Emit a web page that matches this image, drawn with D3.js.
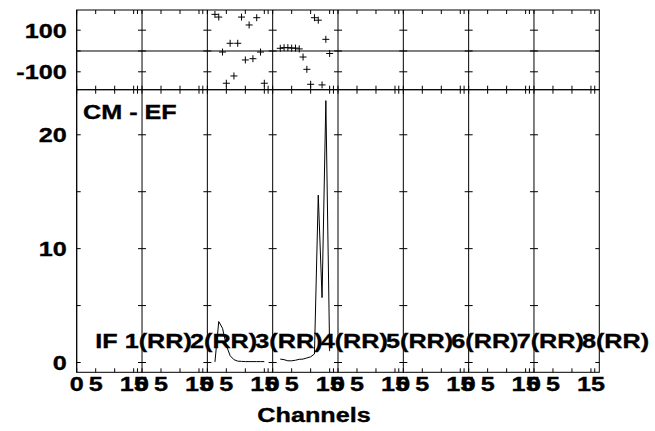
<!DOCTYPE html>
<html><head><meta charset="utf-8">
<script src="https://cdn.jsdelivr.net/npm/d3@7"></script>
<style>html,body{margin:0;padding:0;background:#fff;}svg{display:block;}</style>
</head><body>
<svg id="c" width="655" height="431"></svg>
<script>
// ---- data ----
const ifLabels = ["1(RR)","2(RR)","3(RR)","4(RR)","5(RR)","6(RR)","7(RR)","8(RR)"];
const ifPrefix = "IF ";
const channels = [2,3,4,5,6,7,8,9,10,11,12,13,14,15];
const ampIF3 = [0.05,3.6,3.0,1.5,0.6,0.25,0.12,0.1,0.08,0.08,0.08,0.08,0.08,0.08];
const ampIF4 = [0.3,0.25,0.15,0.15,0.2,0.28,0.3,0.4,0.5,0.75,14.7,5.7,23.0,1.0];
const phaseIF3 = [176,163,-5,-155,37,-120,37,163,-43,125,-37,160,-5,-155];
const phaseIF4 = [13,16,16,14,14,10,-29,-88,-160,160,148,-163,56,-12];
const ampSeries = [{ifIndex:2, values:ampIF3},{ifIndex:3, values:ampIF4}];
const phaseSeries = [{ifIndex:2, values:phaseIF3},{ifIndex:3, values:phaseIF4}];
const xTickVals = [0,5,10,15,16];
const xTickLabels = [0,5,15];
const phaseTicks = [100,-100];
const ampTicks = [0,5,10,15,20];
const ampTickLabels = [0,10,20];
const title = "CM - EF";
const xTitle = "Channels";

// ---- layout ----
const L = 76.7, R = 599.3, T = 10, M = 89.7, B = 372.3;
const svg = d3.select("#c");
const FONT = "'Liberation Sans', Arial, Helvetica, sans-serif";
const SX = 1.2, FS = 21;

const panelX = d3.scaleLinear().domain([0, ifLabels.length]).range([L, R]);
const pw = panelX(1) - panelX(0);
const chX = d3.scaleLinear().domain([0, 17.2]).range([0, pw]);
const yP = d3.scaleLinear().domain([-186, 197]).range([M, T]);
const yA = d3.scaleLinear().domain([-0.86, 23.96]).range([B, M]);

function txt(x, y, s, anchor) {
  return svg.append("text")
    .attr("transform", `translate(${x},${y}) scale(${SX},1)`)
    .attr("text-anchor", anchor || "start")
    .attr("font-family", FONT).attr("font-weight", "bold")
    .attr("font-size", FS).attr("fill", "#000")
    .attr("stroke", "#000").attr("stroke-width", 0.35)
    .text(s);
}

const g = svg.append("g").attr("stroke", "#000").attr("fill", "none").attr("stroke-width", 1);

// frames
[[T, M], [M, B]].forEach(([y0, y1]) => {
  g.append("rect").attr("x", L).attr("y", y0).attr("width", R - L).attr("height", y1 - y0);
});
// zero line in phase panel
g.append("line").attr("x1", L).attr("x2", R).attr("y1", yP(0)).attr("y2", yP(0));

ifLabels.forEach((lab, i) => {
  const x0 = panelX(i), x1 = panelX(i + 1);
  g.append("line").attr("x1", x0).attr("x2", x0).attr("y1", T).attr("y2", B);
  xTickVals.forEach(c => {
    const x = x0 + chX(c);
    [[T, 4], [M, -4], [M, 4], [B, -4]].forEach(([y, d]) => {
      g.append("line").attr("x1", x).attr("x2", x).attr("y1", y).attr("y2", y + d);
    });
  });
  phaseTicks.concat([0]).forEach(v => {
    g.append("line").attr("x1", x0).attr("x2", x0 + 4).attr("y1", yP(v)).attr("y2", yP(v));
    g.append("line").attr("x1", x1).attr("x2", x1 - 4).attr("y1", yP(v)).attr("y2", yP(v));
  });
  ampTicks.forEach(v => {
    g.append("line").attr("x1", x0).attr("x2", x0 + 4).attr("y1", yA(v)).attr("y2", yA(v));
    g.append("line").attr("x1", x1).attr("x2", x1 - 4).attr("y1", yA(v)).attr("y2", yA(v));
  });
  xTickLabels.forEach(c => txt(x0 + chX(c), 391, String(c), "middle"));
});

// amplitude lines
const line = d3.line();
ampSeries.forEach(s => {
  const x0 = panelX(s.ifIndex);
  g.append("path").attr("d", line(s.values.map((v, k) => [x0 + chX(channels[k]), yA(v)])));
});
// phase crosses
phaseSeries.forEach(s => {
  const x0 = panelX(s.ifIndex);
  s.values.forEach((v, k) => {
    const x = x0 + chX(channels[k]), y = yP(v);
    g.append("path").attr("d", `M${x - 3.5},${y}H${x + 3.5}M${x},${y - 3.5}V${y + 3.5}`);
  });
});

// y labels
phaseTicks.forEach(v => txt(L - 10, yP(v) + 7.5, String(v), "end"));
ampTickLabels.forEach(v => txt(L - 10, yA(v) + 7.5, String(v), "end"));

// IF labels: each "k(RR)" starts at a fixed offset inside its panel; first one gets the "IF " prefix before it
const probe = txt(0, -100, ifPrefix.replace(/ /g, "\u00a0"), "start");
const prefixW = probe.node().getComputedTextLength() * SX;
probe.remove();
ifLabels.forEach((lab, i) => {
  const xs = panelX(i) + 48;
  if (i === 0) txt(xs - prefixW, 348, ifPrefix + lab, "start").attr("xml:space", "preserve");
  else txt(xs, 348, lab, "start");
});

txt(83, 119, title, "start");
txt(314, 422, xTitle, "middle");
</script>
</body></html>
